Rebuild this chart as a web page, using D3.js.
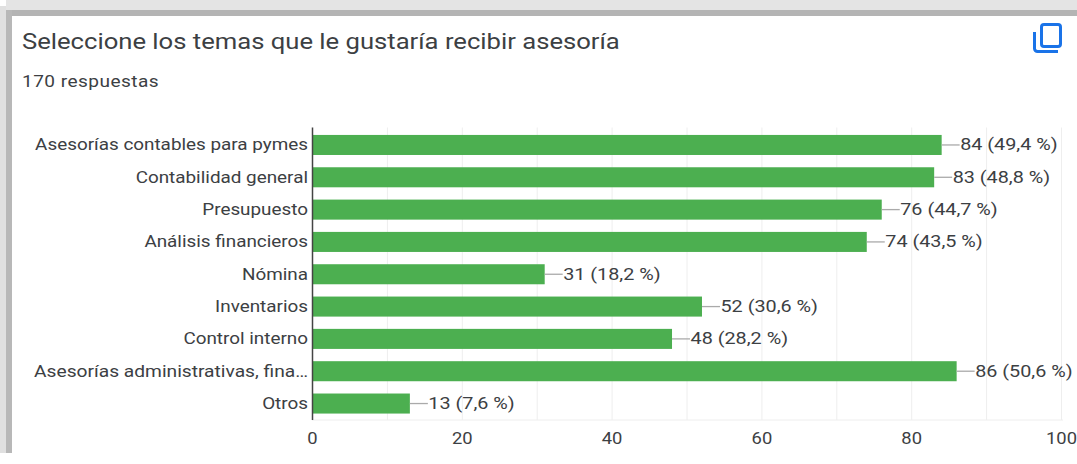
<!DOCTYPE html>
<html><head><meta charset="utf-8">
<script src="https://cdn.jsdelivr.net/npm/d3@7"></script>
<style>html,body{margin:0;padding:0;background:#fff;overflow:hidden}svg{display:block}text{font-family:Roboto,Arial,sans-serif}</style>
</head><body>
<svg id="c" width="1077" height="464"></svg>
<script>
const categories=["Asesorías contables para pymes","Contabilidad general","Presupuesto","Análisis financieros","Nómina","Inventarios","Control interno","Asesorías administrativas, fina…","Otros"];
const counts=[84,83,76,74,31,52,48,86,13];
const percents=["49,4","48,8","44,7","43,5","18,2","30,6","28,2","50,6","7,6"];
const xTicks=[0,20,40,60,80,100];
const minorTicks=[10,30,50,70,90];
const titleText="Seleccione los temas que le gustaría recibir asesoría";
const subtitleText="170 respuestas";

const svg=d3.select("#c");
const at=(px,py,s)=>`translate(${px},${py}) scale(${s},1)`;
svg.append("rect").attr("x",0).attr("y",0).attr("width",1077).attr("height",464).attr("fill","#fff");
svg.append("rect").attr("x",6).attr("y",0).attr("width",1071).attr("height",10).attr("fill","#e4e4e4");
svg.append("rect").attr("x",12).attr("y",10).attr("width",1065).attr("height",6).attr("fill","#b4b4b4");
svg.append("rect").attr("x",0).attr("y",6).attr("width",6).attr("height",447).attr("fill","#e0e0e0");
svg.append("rect").attr("x",6).attr("y",10).attr("width",6).attr("height",443).attr("fill","#b8b8b8");

svg.append("text").attr("transform",at(22,49,1.165)).attr("font-size",22).attr("fill","#3c4043").text(titleText);
svg.append("text").attr("transform",at(22,87,1.19)).attr("font-size",16).attr("fill","#3c4043").attr("letter-spacing",0.4).text(subtitleText);

const ic=svg.append("g").attr("fill","none").attr("stroke","#1a73e8").attr("stroke-width",3);
ic.append("rect").attr("x",1041.5).attr("y",24.5).attr("width",19).attr("height",22).attr("rx",2.5);
ic.append("path").attr("d","M1034.5 32V48.5a3 3 0 0 0 3 3H1058");

const x=d3.scaleLinear().domain([0,100]).range([312.5,1061.5]);
const y=d3.scaleBand().domain(categories).range([128.8,419.7]).paddingInner(0.38).paddingOuter(0.19);
const plotTop=127.5,plotBot=420;

svg.append("g").selectAll("line").data(minorTicks.concat(xTicks.slice(1))).join("line")
 .attr("x1",d=>x(d)).attr("x2",d=>x(d)).attr("y1",plotTop).attr("y2",plotBot).attr("stroke","#eeeeee").attr("stroke-width",1);
svg.append("line").attr("x1",312).attr("x2",1063).attr("y1",plotBot).attr("y2",plotBot).attr("stroke","#eeeeee");

const rows=categories.map((c,i)=>({c,v:counts[i],p:percents[i]}));
svg.append("g").selectAll("rect").data(rows).join("rect")
 .attr("x",x(0)).attr("y",d=>y(d.c)).attr("width",d=>x(d.v)-x(0)).attr("height",y.bandwidth()).attr("fill","#4caf50");
svg.append("g").selectAll("line").data(rows).join("line")
 .attr("x1",d=>x(d.v)).attr("x2",d=>x(d.v)+18).attr("y1",d=>y(d.c)+y.bandwidth()/2).attr("y2",d=>y(d.c)+y.bandwidth()/2).attr("stroke","#aaa").attr("stroke-width",1.3);
svg.append("g").selectAll("text").data(rows).join("text")
 .attr("transform",d=>at(x(d.v)+18.5,y(d.c)+y.bandwidth()/2+5.5,1.2)).attr("font-size",16.5).attr("fill","#3c4043").text(d=>`${d.v} (${d.p} %)`);
svg.append("g").selectAll("text").data(rows).join("text")
 .attr("transform",d=>at(308,y(d.c)+y.bandwidth()/2+5.5,d.c.endsWith("…")?1.2:1.18)).attr("text-anchor","end").attr("font-size",16).attr("fill","#3c4043").text(d=>d.c);
svg.append("line").attr("x1",312.5).attr("x2",312.5).attr("y1",plotTop).attr("y2",plotBot).attr("stroke","#444").attr("stroke-width",1.5);
svg.append("g").selectAll("text").data(xTicks).join("text")
 .attr("transform",d=>at(x(d),443.5,1.15)).attr("text-anchor","middle").attr("font-size",16).attr("fill","#3c4043").text(d=>d);
</script></body></html>
